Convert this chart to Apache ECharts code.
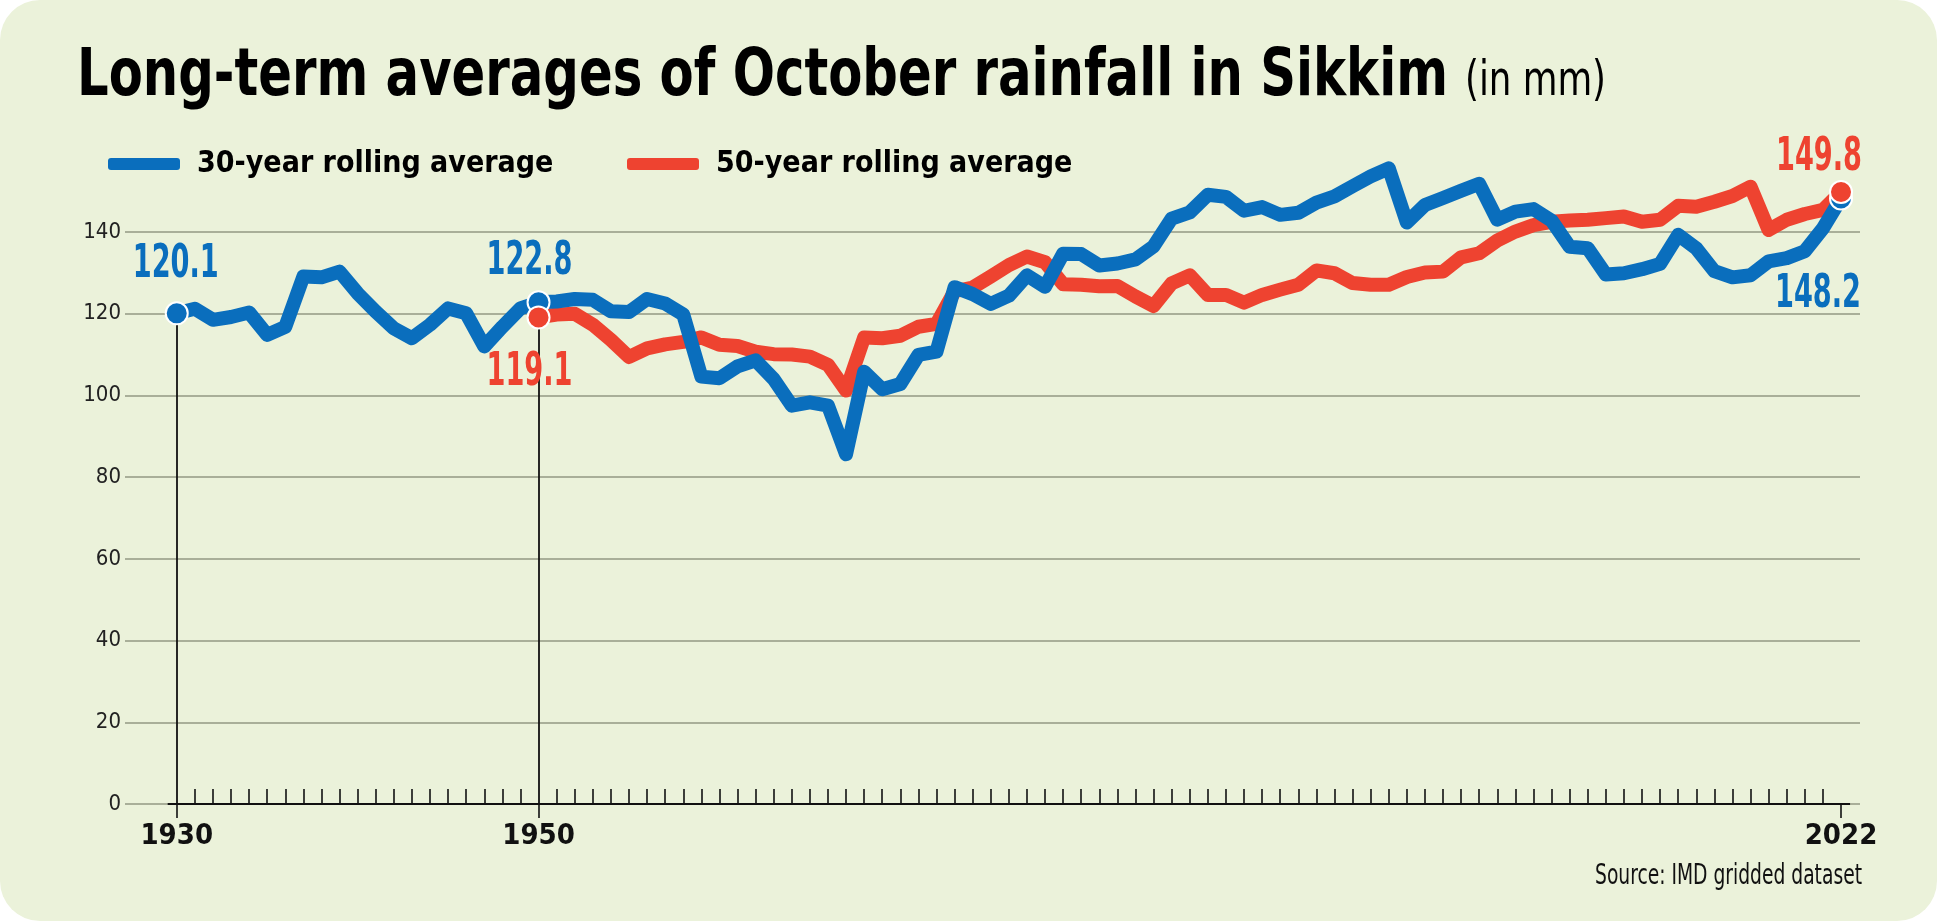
<!DOCTYPE html>
<html><head><meta charset="utf-8">
<script src="https://cdn.jsdelivr.net/npm/echarts@6/dist/echarts.min.js"></script>
<style>
html,body{margin:0;padding:0;background:#ffffff;}
#chart{width:1937px;height:921px;background:#EBF2DA;border-radius:40px;overflow:hidden;}
</style></head><body><div id="chart"></div>
<script>
// ---- data ----
const blueName = '30-year rolling average';
const redName = '50-year rolling average';
const blueStartYear = 1930;
const blueValues = [
  120.1,121.2,118.5,119.2,120.3,114.8,116.8,129.1,128.9,130.3,
  125.0,120.5,116.4,114.0,117.3,121.3,120.1,112.0,116.8,121.3,
  122.8,123.0,123.6,123.4,120.6,120.4,123.6,122.5,119.8,104.6,
  104.2,107.1,108.6,104.0,97.5,98.3,97.5,85.6,105.8,101.5,
  102.8,109.9,110.7,126.5,124.8,122.4,124.4,129.4,126.6,134.7,
  134.6,131.8,132.3,133.3,136.5,143.3,144.8,149.1,148.6,145.2,
  146.1,144.2,144.7,147.2,148.7,151.2,153.6,155.6,142.3,146.6,
  148.3,150.1,151.8,143.0,145.0,145.6,142.8,136.4,136.0,129.6,
  129.9,130.9,132.2,139.3,136.0,130.4,128.9,129.4,132.8,133.6,
  135.3,140.9,148.2
];
const redStartYear = 1950;
const redValues = [
  119.1,119.8,120.0,117.3,113.6,109.4,111.5,112.5,113.1,114.2,
  112.4,112.1,110.7,110.1,110.0,109.5,107.5,101.2,114.2,114.0,
  114.6,116.8,117.5,125.5,126.4,129.1,131.9,134.0,132.6,127.2,
  127.1,126.7,126.8,124.2,121.9,127.4,129.4,124.6,124.6,122.7,
  124.6,125.9,127.1,130.6,129.9,127.5,127.1,127.1,129.0,130.1,
  130.3,133.8,134.8,137.9,140.1,141.7,142.5,142.8,143.0,143.4,
  143.8,142.5,143.0,146.4,146.2,147.4,148.8,151.1,140.5,143.0,
  144.4,145.4,149.8
];
const xLabelYears = [1930, 1950, 2022];
const yMin = 0, yMax = 140, yStep = 20;
const titleText = 'Long-term averages of October rainfall in Sikkim';
const unitText = '(in mm)';
const sourceText = 'Source: IMD gridded dataset';

// ---- derived ----
const bluePairs = blueValues.map((v, i) => [blueStartYear + i, v]);
const redPairs = redValues.map((v, i) => [redStartYear + i, v]);
const firstYear = blueStartYear;
const lastYear = blueStartYear + blueValues.length - 1;
const minorYears = [];
for (let y = firstYear + 1; y < lastYear; y++) if (xLabelYears.indexOf(y) < 0) minorYears.push(y);
const valAt = (pairs, yr) => { const p = pairs.find(d => d[0] === yr); return p ? p[1] : null; };

const BLUE = '#0A6EBD', RED = '#EE4330';
const FONT = '"DejaVu Sans Condensed", "DejaVu Sans", sans-serif';

const blueMarks = [1930, 1950, 2022].map(yr => [yr, valAt(bluePairs, yr)]);
const redMarks = [1950, 2022].map(yr => [yr, valAt(redPairs, yr)]);

const vLines = [
  [{ coord: [1930, valAt(bluePairs, 1930)] }, { coord: [1930, yMin] }],
  [{ coord: [1950, valAt(redPairs, 1950)] }, { coord: [1950, yMin] }],
  [{ coord: [2022, valAt(bluePairs, 2022)] }, { coord: [2022, yMin] }],
  [{ coord: [firstYear - 0.5, yMin] }, { coord: [lastYear + 0.5, yMin] }]
];

const chart = echarts.init(document.getElementById('chart'), null, { renderer: 'canvas' });
const xMin = 1927.14, xMax = 2023.05;

chart.setOption({
  backgroundColor: 'transparent',
  animation: false,
  legend: [
    {
      left: 103, top: 144, data: [blueName],
      icon: 'roundRect', itemWidth: 72, itemHeight: 12,
      textStyle: { fontFamily: FONT, fontWeight: 'bold', fontSize: 30, color: '#000', padding: [0, 0, 0, 12] },
      selectedMode: false
    },
    {
      left: 622, top: 144, data: [redName],
      icon: 'roundRect', itemWidth: 72, itemHeight: 12,
      textStyle: { fontFamily: FONT, fontWeight: 'bold', fontSize: 30, color: '#000', padding: [0, 0, 0, 12] },
      selectedMode: false
    }
  ],
  grid: { left: 125, right: 77, top: 232, bottom: 117, containLabel: false },
  xAxis: [
    {
      type: 'value', min: xMin, max: xMax, position: 'bottom',
      axisLine: { show: false }, splitLine: { show: false },
      axisTick: { show: true, inside: true, length: 15, customValues: minorYears, lineStyle: { color: '#111', width: 1.6 } },
      axisLabel: { show: false }
    },
    {
      type: 'value', min: xMin, max: xMax, position: 'bottom',
      axisLine: { show: false }, splitLine: { show: false },
      axisTick: { show: true, inside: false, length: 14, customValues: xLabelYears, lineStyle: { color: '#111', width: 1.6 } },
      axisLabel: {
        show: true, customValues: xLabelYears, margin: 18,
        fontFamily: FONT, fontWeight: 'bold', fontSize: 29, color: '#111',
        formatter: v => String(v)
      }
    }
  ],
  yAxis: {
    type: 'value', min: yMin, max: yMax, interval: yStep,
    axisLine: { show: false }, axisTick: { show: false },
    splitLine: { show: true, lineStyle: { color: '#A9AF99', width: 2 } },
    axisLabel: { margin: 4, fontFamily: FONT, fontSize: 22, color: '#222' }
  },
  series: [
    {
      name: redName, type: 'line', xAxisIndex: 0, data: redPairs,
      showSymbol: false, symbol: 'none', clip: false, z: 2,
      lineStyle: { color: RED, width: 14, join: 'round' }, itemStyle: { color: RED },
      markLine: {
        silent: true, symbol: 'none', animation: false,
        label: { show: false },
        lineStyle: { color: '#111', width: 1.8, type: 'solid' },
        emphasis: { disabled: true },
        data: vLines
      }
    },
    {
      name: blueName, type: 'line', xAxisIndex: 0, data: bluePairs,
      showSymbol: false, symbol: 'none', clip: false, z: 3,
      lineStyle: { color: BLUE, width: 14, join: 'round' }, itemStyle: { color: BLUE }
    },
    {
      type: 'scatter', xAxisIndex: 0, data: blueMarks, symbolSize: 22, z: 5, clip: false,
      itemStyle: { color: BLUE, borderColor: '#fff', borderWidth: 2, opacity: 1 }
    },
    {
      type: 'scatter', xAxisIndex: 0, data: redMarks, symbolSize: 22, z: 6, clip: false,
      itemStyle: { color: RED, borderColor: '#fff', borderWidth: 2, opacity: 1 }
    }
  ]
});

// ---- condensed text (scaled horizontally to mimic the condensed face) ----
const mctx = document.createElement('canvas').getContext('2d');
function textW(str, size, weight) {
  mctx.font = (weight || 'normal') + ' ' + size + 'px ' + FONT;
  return mctx.measureText(str).width;
}
function ctext(str, x, y, size, weight, color, targetW, align) {
  const s = targetW / textW(str, size, weight);
  return {
    type: 'text', x: x, y: y, scaleX: s, scaleY: 1, z: 100, silent: true,
    style: { text: str, fontSize: size, fontWeight: weight, fontFamily: FONT, fill: color, align: align || 'left', verticalAlign: 'middle' }
  };
}
const px = (d) => chart.convertToPixel({ xAxisIndex: 0, yAxisIndex: 0 }, d);

const fmt = v => v.toFixed(1);
const LBL = 46;
const labelScale = 86 / textW('120.1', LBL, 'bold');
function vlabel(d, dx, dy, color) {
  const p = px(d);
  const g = ctext(fmt(d[1]), p[0] + dx, p[1] + dy, LBL, 'bold', color, 1, 'center');
  g.scaleX = labelScale;
  return g;
}

chart.setOption({
  graphic: [
    ctext(titleText, 77, 78, 66, 'bold', '#000', 1371, 'left'),
    ctext(unitText, 1465, 83, 48, 'normal', '#000', 141, 'left'),
    ctext(sourceText, 1862, 877, 28, 'normal', '#111', 267, 'right'),
    vlabel(blueMarks[0], -1, -48, BLUE),
    vlabel(blueMarks[1], -9, -40, BLUE),
    vlabel(redMarks[0], -9, 56, RED),
    vlabel(redMarks[1], -22, -34, RED),
    vlabel(blueMarks[2], -23, 97, BLUE)
  ]
});
</script></body></html>
